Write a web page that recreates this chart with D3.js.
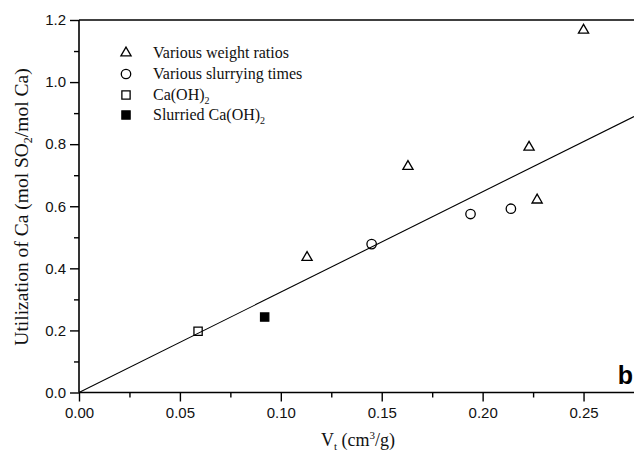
<!DOCTYPE html>
<html lang="en">
<head>
<meta charset="utf-8">
<script src="https://d3js.org/d3.v7.min.js"></script>
<style>
  body { margin: 0; background: #fff; }
  .tick text { font-family: "Liberation Sans", Arial, sans-serif; font-size: 15px; fill: #111; }
  .ttl { font-family: "Liberation Serif", "Times New Roman", serif; font-size: 18px; fill: #111; }
  .leg { font-family: "Liberation Serif", "Times New Roman", serif; font-size: 16px; fill: #111; }
</style>
</head>
<body>
<div id="chart"></div>
<script>
// series
const weightX = [0.113, 0.163, 0.223, 0.227, 0.250];
const weightY = [0.435, 0.728, 0.790, 0.620, 1.167];
const slurryX = [0.145, 0.194, 0.214];
const slurryY = [0.478, 0.575, 0.592];
const caohX = [0.059];
const caohY = [0.197];
const slurCaohX = [0.092];
const slurCaohY = [0.243];
const fitX = [0, 0.275];
const fitY = [0, 0.889];

const xTicks = [0, 0.05, 0.10, 0.15, 0.20, 0.25];
const yTicks = [0, 0.2, 0.4, 0.6, 0.8, 1.0, 1.2];
const legendNames = ["Various weight ratios", "Various slurrying times", "Ca(OH)", "Slurried Ca(OH)"];

const width = 634, height = 461;
const svg = d3.select("#chart").append("svg")
    .attr("width", width)
    .attr("height", height);

const x = d3.scaleLinear().domain([0, 0.275]).range([79, 634]);
const y = d3.scaleLinear().domain([0, 1.2]).range([392.5, 20]);

// minor ticks first
svg.append("g")
    .attr("transform", "translate(0,392.5)")
    .call(d3.axisBottom(x).tickValues(d3.range(0.025, 0.275, 0.05)).tickSize(5).tickFormat(""))
    .call(g => g.select(".domain").remove())
    .selectAll("line").attr("stroke-width", 1.4);
svg.append("g")
    .attr("transform", "translate(79,0)")
    .call(d3.axisLeft(y).tickValues(d3.range(0.1, 1.2, 0.2)).tickSize(5).tickFormat(""))
    .call(g => g.select(".domain").remove())
    .selectAll("line").attr("stroke-width", 1.4);

const xAxis = svg.append("g")
    .attr("transform", "translate(0,392.5)")
    .call(d3.axisBottom(x).tickValues(xTicks).tickSize(9).tickPadding(6).tickFormat(d3.format(".2f")));
xAxis.select(".domain").attr("d", `M79,0H634`).attr("stroke-width", 1.6);
xAxis.selectAll("line").attr("stroke-width", 1.4);

const yAxis = svg.append("g")
    .attr("transform", "translate(79,0)")
    .call(d3.axisLeft(y).tickValues(yTicks).tickSize(9).tickPadding(4).tickFormat(d3.format(".1f")));
yAxis.select(".domain").attr("d", `M0,20V392.5`).attr("stroke-width", 1.6);
yAxis.selectAll("line").attr("stroke-width", 1.4);

// top frame
svg.append("line")
    .attr("x1", x(0)).attr("x2", x(0.275))
    .attr("y1", y(1.2)).attr("y2", y(1.2))
    .attr("stroke", "#000").attr("stroke-width", 1.6);

// fit line
svg.append("path")
    .datum(d3.zip(fitX, fitY))
    .attr("d", d3.line().x(d => x(d[0])).y(d => y(d[1])))
    .attr("fill", "none").attr("stroke", "#000").attr("stroke-width", 1.1);

const tri = d3.symbol().type(d3.symbolTriangle).size(45);
const circ = d3.symbol().type(d3.symbolCircle).size(70);
const sq = d3.symbol().type(d3.symbolSquare).size(68);

function plot(xs, ys, sym, fill) {
  svg.append("g").selectAll("path")
    .data(d3.zip(xs, ys))
    .join("path")
    .attr("transform", d => `translate(${x(d[0])},${y(d[1])})`)
    .attr("d", sym)
    .attr("fill", fill).attr("stroke", "#000").attr("stroke-width", 1.3);
}
plot(weightX, weightY, tri, "none");
plot(slurryX, slurryY, circ, "none");
plot(caohX, caohY, sq, "none");
plot(slurCaohX, slurCaohY, sq, "#000");

// legend
const legSyms = [[tri, "none"], [circ, "none"], [sq, "none"], [sq, "#000"]];
const legY = [53, 74, 95, 115];
legendNames.forEach((name, i) => {
  svg.append("path")
    .attr("transform", `translate(126,${legY[i]})`)
    .attr("d", legSyms[i][0])
    .attr("fill", legSyms[i][1]).attr("stroke", "#000").attr("stroke-width", 1.3);
  const t = svg.append("text").attr("class", "leg")
    .attr("x", 153).attr("y", legY[i] + 5).text(name);
  if (i >= 2) t.append("tspan").style("font-size", "10px").attr("dy", 4).text("2");
});

// axis titles
const yt = svg.append("text").attr("class", "ttl")
    .style("font-size", "19.5px")
    .attr("transform", "translate(28,207) rotate(-90)")
    .attr("text-anchor", "middle");
yt.append("tspan").text("Utilization of Ca (mol SO");
yt.append("tspan").style("font-size", "12px").attr("dy", 4).text("2");
yt.append("tspan").attr("dy", -4).text("/mol Ca)");

const xt = svg.append("text").attr("class", "ttl")
    .attr("x", 358).attr("y", 446)
    .attr("text-anchor", "middle");
xt.append("tspan").text("V");
xt.append("tspan").style("font-size", "11px").attr("dy", 4).text("t");
xt.append("tspan").attr("dy", -4).text(" (cm");
xt.append("tspan").style("font-size", "11px").attr("dy", -7).text("3");
xt.append("tspan").attr("dy", 7).text("/g)");

svg.append("text")
    .attr("x", 633).attr("y", 384)
    .attr("text-anchor", "end")
    .attr("font-family", "Liberation Sans, Arial, sans-serif")
    .attr("font-weight", "bold").attr("font-size", "25px")
    .text("b");
</script>
</body>
</html>
